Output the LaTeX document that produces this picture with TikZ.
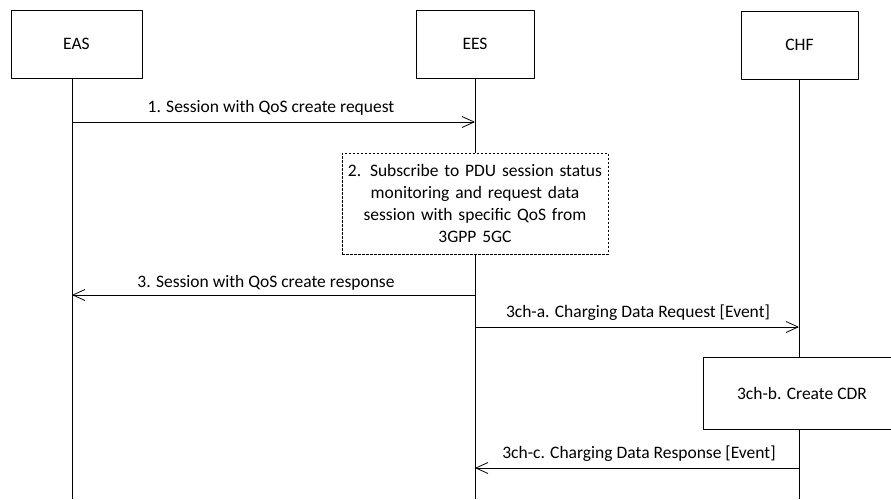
\documentclass[tikz,border=0pt]{standalone}
\usepackage{fontspec}
\setmainfont{Carlito}
\usetikzlibrary{arrows.meta}

\begin{document}
\begin{tikzpicture}[
  x=1pt, y=-1pt,
  line join=round,
  every node/.style={font=\fontsize{17.5}{22}\selectfont},
  life/.style={line width=0.8pt},
  actor/.style={draw, line width=0.8pt, fill=white, minimum height=68pt, inner sep=0pt},
  procbox/.style={draw, line width=0.8pt, fill=white, inner sep=0pt, align=center},
  msg/.style={line width=0.8pt, -{Straight Barb[length=12pt,width=11pt]}},
  lbl/.style={anchor=base},
]
\useasboundingbox (0,0) rectangle (891,499);
\clip (0,0) rectangle (891,499);

% ── lifelines ─────────────────────────────────────────────────────────────
\coordinate (eas-top) at (72,78);   \coordinate (eas-end) at (72,499);
\coordinate (ees-top) at (475,78);  \coordinate (ees-end) at (475,499);
\coordinate (chf-top) at (799,79);  \coordinate (chf-end) at (799,499);
\draw[life] (eas-top) -- (eas-end);
\draw[life] (ees-top) -- (ees-end);
\draw[life] (chf-top) -- (chf-end);

% ── the three parties ─────────────────────────────────────────────────────
\node[actor, minimum width=131pt] (eas) at (76.5,44) {EAS};
\node[actor, minimum width=118pt] (ees) at (475,44) {EES};
\node[actor, minimum width=117pt] (chf) at (799.5,45) {CHF};

% ── local steps ───────────────────────────────────────────────────────────
\node[procbox, dash pattern=on 2.5pt off 1.5pt, minimum width=266pt, minimum height=101pt,
  text width=262pt] (subscribe) at (475,203.5)
  {2. Subscribe to PDU session status\\monitoring and request data\\session with specific QoS from\\3GPP 5GC};
\node[procbox, minimum width=198pt, minimum height=72pt] (cdr) at (802,393) {3ch-b. Create CDR};

% ── messages ──────────────────────────────────────────────────────────────
\coordinate (m1-eas) at (72,122);   \coordinate (m1-ees) at (475,122);
\coordinate (m3-eas) at (72,295);   \coordinate (m3-ees) at (475,295);
\coordinate (ma-ees) at (475,327);  \coordinate (ma-chf) at (799,327);
\coordinate (mc-ees) at (475,468);  \coordinate (mc-chf) at (799,468);

\draw[msg] (m1-eas) -- (m1-ees);
\node[lbl] (m1-lbl) at (271,112) {1. Session with QoS create request};

\draw[msg] (m3-ees) -- (m3-eas);
\node[lbl] (m3-lbl) at (266,287) {3. Session with QoS create response};

\draw[msg] (ma-ees) -- (ma-chf);
\node[lbl] (ma-lbl) at (638,317) {3ch-a. Charging Data Request [Event]};

\draw[msg] (mc-chf) -- (mc-ees);
\node[lbl] (mc-lbl) at (639,458) {3ch-c. Charging Data Response [Event]};

\end{tikzpicture}
\end{document}
